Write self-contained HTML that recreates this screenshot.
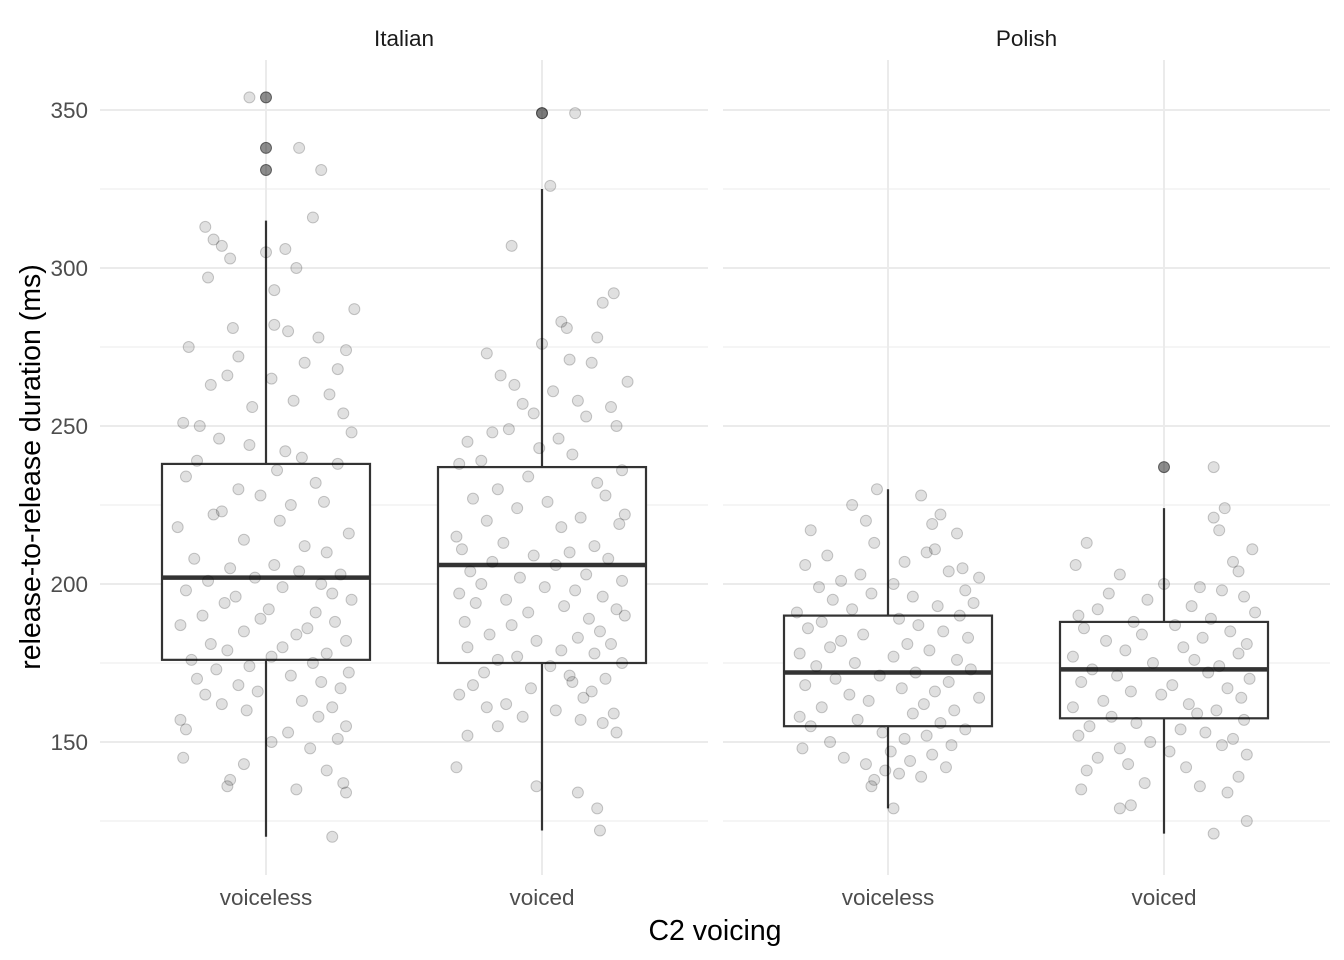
<!DOCTYPE html>
<html><head><meta charset="utf-8"><style>
body{margin:0;background:#fff;}
svg{display:block;font-family:"Liberation Sans",Arial,sans-serif;}
</style></head><body>
<svg id="chart" width="1344" height="960" xmlns="http://www.w3.org/2000/svg"></svg>
<script>
const facets=["Italian","Polish"];
const categories=["voiceless","voiced"];
const yTicks=[150,200,250,300,350];
const yMinor=[125,175,225,275,325];
// box stats: [lowerWhisker, q1, median, q3, upperWhisker]
const itVoicelessBox=[120,176,202,238,315];
const itVoicedBox=[122,175,206,237,325];
const plVoicelessBox=[129,155,172,190,230];
const plVoicedBox=[121,157.5,173,188,224];
const itVoicelessOut=[331,338,354];
const itVoicedOut=[349];
const plVoicelessOut=[];
const plVoicedOut=[237];
// jittered points: values and jitter offsets (category units)
const itVoicelessVals=[354,338,331,316,313,309,307,306,305,303,300,297,293,287,282,281,280,278,275,274,272,270,268,266,265,263,260,258,256,254,251,250,248,246,244,242,240,239,238,236,234,232,230,228,226,225,223,222,220,218,216,214,212,210,208,206,205,204,203,202,201,200,199,198,197,196,195,194,192,191,190,189,188,187,186,185,184,182,181,180,179,178,177,176,175,174,173,172,171,170,169,168,167,166,165,163,162,161,160,158,157,155,154,153,151,150,148,145,143,141,138,137,136,135,134,120];
const itVoicelessJit=[-0.06,0.12,0.2,0.17,-0.22,-0.19,-0.16,0.07,0,-0.13,0.11,-0.21,0.03,0.32,0.03,-0.12,0.08,0.19,-0.28,0.29,-0.1,0.14,0.26,-0.14,0.02,-0.2,0.23,0.1,-0.05,0.28,-0.3,-0.24,0.31,-0.17,-0.06,0.07,0.13,-0.25,0.26,0.04,-0.29,0.18,-0.1,-0.02,0.21,0.09,-0.16,-0.19,0.05,-0.32,0.3,-0.08,0.14,0.22,-0.26,0.03,-0.13,0.12,0.27,-0.04,-0.21,0.2,0.06,-0.29,0.24,-0.11,0.31,-0.15,0.01,0.18,-0.23,-0.02,0.25,-0.31,0.15,-0.08,0.11,0.29,-0.2,0.06,-0.14,0.22,0.02,-0.27,0.17,-0.06,-0.18,0.3,0.09,-0.25,0.2,-0.1,0.27,-0.03,-0.22,0.13,-0.16,0.24,-0.07,0.19,-0.31,0.29,-0.29,0.08,0.26,0.02,0.16,-0.3,-0.08,0.22,-0.13,0.28,-0.14,0.11,0.29,0.24];
const itVoicedVals=[349,349,326,307,292,289,283,281,278,276,273,271,270,266,264,263,261,258,257,256,254,253,250,249,248,246,245,243,241,239,238,236,234,232,230,228,227,226,224,222,221,220,219,218,215,213,212,211,210,209,208,207,206,204,203,202,201,200,199,198,197,196,195,194,193,192,191,190,189,188,187,185,184,183,182,181,180,179,178,177,176,175,174,172,171,170,169,168,167,166,165,164,162,161,160,159,158,157,156,155,153,152,142,136,134,129,122];
const itVoicedJit=[0,0.12,0.03,-0.11,0.26,0.22,0.07,0.09,0.2,0,-0.2,0.1,0.18,-0.15,0.31,-0.1,0.04,0.13,-0.07,0.25,-0.03,0.16,0.27,-0.12,-0.18,0.06,-0.27,-0.01,0.11,-0.22,-0.3,0.29,-0.05,0.2,-0.16,0.23,-0.25,0.02,-0.09,0.3,0.14,-0.2,0.28,0.07,-0.31,-0.14,0.19,-0.29,0.1,-0.03,0.24,-0.18,0.05,-0.26,0.16,-0.08,0.29,-0.22,0.01,0.12,-0.3,0.22,-0.13,-0.24,0.08,0.27,-0.05,0.3,0.17,-0.28,-0.11,0.21,-0.19,0.13,-0.02,0.25,-0.27,0.07,0.19,-0.09,-0.16,0.29,0.03,-0.21,0.1,0.23,0.11,-0.25,-0.04,0.18,-0.3,0.15,-0.13,-0.2,0.05,0.26,-0.07,0.14,0.22,-0.16,0.27,-0.27,-0.31,-0.02,0.13,0.2,0.21,-0.04];
const plVoicelessVals=[230,228,225,222,220,219,217,216,213,211,210,209,207,206,205,204,203,202,201,200,199,198,197,196,195,194,193,192,191,190,189,188,187,186,185,184,183,182,181,180,179,178,177,176,175,174,173,172,171,170,169,168,167,166,165,164,163,162,161,160,159,158,157,156,155,154,153,152,151,150,149,148,147,146,145,144,143,142,141,140,139,138,136,129];
const plVoicelessJit=[-0.04,0.12,-0.13,0.19,-0.08,0.16,-0.28,0.25,-0.05,0.17,0.14,-0.22,0.06,-0.3,0.27,0.22,-0.1,0.33,-0.17,0.02,-0.25,0.28,-0.06,0.09,-0.2,0.31,0.18,-0.13,-0.33,0.26,0.04,-0.24,0.11,-0.29,0.2,-0.09,0.29,-0.17,0.07,-0.21,0.15,-0.32,0.02,0.25,-0.12,-0.26,0.3,0.1,-0.03,-0.19,0.22,-0.3,0.05,0.17,-0.14,0.33,-0.07,0.13,-0.24,0.24,0.09,-0.32,-0.11,0.19,-0.28,0.28,-0.02,0.14,0.06,-0.21,0.23,-0.31,0.01,0.16,-0.16,0.08,-0.08,0.21,-0.01,0.04,0.12,-0.05,-0.06,0.02];
const plVoicedVals=[237,224,221,217,213,211,207,206,204,203,200,199,198,197,196,195,193,192,191,190,189,188,187,186,185,184,183,182,181,180,179,178,177,176,175,174,173,172,171,170,169,168,167,166,165,164,163,162,161,160,159,158,157,156,155,154,153,152,151,150,149,148,147,146,145,143,142,141,139,137,136,135,134,130,129,125,121];
const plVoicedJit=[0.18,0.22,0.18,0.2,-0.28,0.32,0.25,-0.32,0.27,-0.16,0,0.13,0.21,-0.2,0.29,-0.06,0.1,-0.24,0.33,-0.31,0.17,-0.11,0.04,-0.29,0.24,-0.08,0.14,-0.21,0.3,0.07,-0.14,0.27,-0.33,0.11,-0.04,0.2,-0.26,0.16,-0.17,0.31,-0.3,0.03,0.23,-0.12,-0.01,0.28,-0.22,0.09,-0.33,0.19,0.12,-0.19,0.29,-0.1,-0.27,0.06,0.15,-0.31,0.25,-0.05,0.21,-0.16,0.02,0.3,-0.24,-0.13,0.08,-0.28,0.27,-0.07,0.13,-0.3,0.23,-0.12,-0.16,0.3,0.18];

const groups=[
 {f:0,c:0,box:itVoicelessBox,out:itVoicelessOut,vals:itVoicelessVals,jit:itVoicelessJit},
 {f:0,c:1,box:itVoicedBox,out:itVoicedOut,vals:itVoicedVals,jit:itVoicedJit},
 {f:1,c:0,box:plVoicelessBox,out:plVoicelessOut,vals:plVoicelessVals,jit:plVoicelessJit},
 {f:1,c:1,box:plVoicedBox,out:plVoicedOut,vals:plVoicedVals,jit:plVoicedJit}
];
const svg=document.getElementById('chart');
const NS='http://www.w3.org/2000/svg';
const panels=[{x0:100,x1:708},{x0:723,x1:1330}];
const panelTop=60,panelBottom=875;
function y(v){return 742-(v-150)*3.16;}
function x(f,c){return (f===0?266:888)+c*276;}
const catW=276;
function el(tag,attrs,parent){const e=document.createElementNS(NS,tag);for(const k in attrs)e.setAttribute(k,attrs[k]);(parent||svg).appendChild(e);return e;}

panels.forEach((p,fi)=>{
 const g=el('g',{});
 
 
 yMinor.forEach(v=>{const l=el('line',{x1:p.x0,x2:p.x1,y1:y(v),y2:y(v),stroke:'#ebebeb','stroke-width':1},g);
  
  });
 yTicks.forEach(v=>{const l=el('line',{x1:p.x0,x2:p.x1,y1:y(v),y2:y(v),stroke:'#ebebeb','stroke-width':2},g);
  
  });
 categories.forEach((c,ci)=>{const l=el('line',{x1:x(fi,ci),x2:x(fi,ci),y1:panelTop,y2:panelBottom,stroke:'#ebebeb','stroke-width':2},g);
  
  
  const t=el('text',{x:x(fi,ci),y:905,'text-anchor':'middle','font-size':22.5,fill:'#4d4d4d'},g);t.textContent=c;
  
  });
 const s=el('text',{x:(p.x0+p.x1)/2,y:46,'text-anchor':'middle','font-size':22.5,fill:'#1a1a1a'},g);s.textContent=facets[fi];
 
 
});
yTicks.forEach(v=>{const t=el('text',{x:88,y:y(v)+8,'text-anchor':'end','font-size':22.5,fill:'#4d4d4d'});t.textContent=v;
 
 });

groups.forEach(gr=>{
 const cx=x(gr.f,gr.c),b=gr.box,hw=104;
 const g=el('g',{});
 
 
 el('line',{x1:cx,x2:cx,y1:y(b[0]),y2:y(b[1]),stroke:'#333','stroke-width':2.2},g);
 el('line',{x1:cx,x2:cx,y1:y(b[3]),y2:y(b[4]),stroke:'#333','stroke-width':2.2},g);
 el('rect',{x:cx-hw,y:y(b[3]),width:hw*2,height:y(b[1])-y(b[3]),fill:'#fff',stroke:'#333','stroke-width':2.2},g);
 el('line',{x1:cx-hw,x2:cx+hw,y1:y(b[2]),y2:y(b[2]),stroke:'#333','stroke-width':4.5},g);
 gr.out.forEach(v=>{const c=el('circle',{cx:cx,cy:y(v),r:5.5,fill:'rgba(0,0,0,0.45)',stroke:'rgba(0,0,0,0.5)','stroke-width':1},g);
  
  });
 gr.vals.forEach((v,i)=>{const c=el('circle',{cx:cx+gr.jit[i]*catW,cy:y(v),r:5.5,fill:'rgba(0,0,0,0.12)',stroke:'rgba(0,0,0,0.2)','stroke-width':1},g);
  
  });
});
const xt=el('text',{x:715,y:940,'text-anchor':'middle','font-size':28.5,fill:'#000'});xt.textContent='C2 voicing';


const yt=el('text',{x:0,y:0,'text-anchor':'middle','font-size':28.5,fill:'#000',transform:'translate(40,467) rotate(-90)'});yt.textContent='release-to-release duration (ms)';


</script>
</body></html>
